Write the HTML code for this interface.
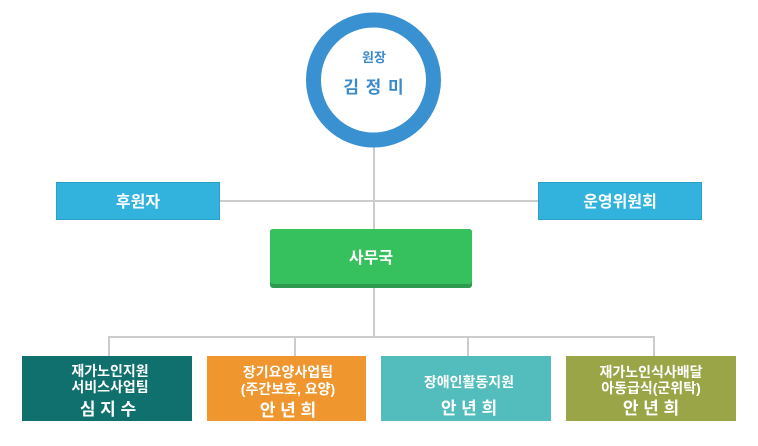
<!DOCTYPE html>
<html>
<head>
<meta charset="utf-8">
<style>
  html, body { margin:0; padding:0; background:#ffffff; }
  body { width:758px; height:441px; overflow:hidden; }
  svg text { font-family: "Liberation Sans", "Noto Sans CJK KR", "NanumGothic", sans-serif; font-weight:bold; }
</style>
</head>
<body>
<svg width="758" height="441" viewBox="0 0 758 441" xmlns="http://www.w3.org/2000/svg">
  <!-- connectors -->
  <g stroke="#cccccc" stroke-width="2" fill="none">
    <line x1="374" y1="146" x2="374" y2="337"/>
    <line x1="220" y1="201" x2="538" y2="201"/>
    <line x1="108" y1="337" x2="655" y2="337"/>
    <line x1="109" y1="336" x2="109" y2="356"/>
    <line x1="295" y1="336" x2="295" y2="356"/>
    <line x1="468" y1="336" x2="468" y2="356"/>
    <line x1="654" y1="336" x2="654" y2="356"/>
  </g>

  <!-- director circle -->
  <circle cx="373.5" cy="80" r="60" fill="#ffffff" stroke="#3a91d2" stroke-width="15"/>
  <text x="374" y="62" font-size="13" fill="#3a8bcc" text-anchor="middle">원장</text>
  <text x="374" y="93" font-size="17" fill="#3a8bcc" text-anchor="middle" letter-spacing="1">김 정 미</text>

  <!-- side boxes -->
  <rect x="56.5" y="182.5" width="163" height="37" fill="#31b3de" stroke="#2a9fca" stroke-width="1"/>
  <text x="138" y="207" font-size="16" fill="#ffffff" text-anchor="middle">후원자</text>

  <rect x="538.5" y="182.5" width="163" height="37" fill="#31b3de" stroke="#2a9fca" stroke-width="1"/>
  <text x="620" y="207" font-size="16" fill="#ffffff" text-anchor="middle">운영위원회</text>

  <!-- office -->
  <rect x="270" y="229" width="202" height="59" rx="3" ry="3" fill="#2e9a50"/>
  <rect x="270" y="229" width="202" height="55" rx="3" ry="3" fill="#36c05e"/>
  <text x="371" y="263" font-size="16" fill="#ffffff" text-anchor="middle">사무국</text>

  <!-- bottom boxes -->
  <rect x="22" y="356" width="170" height="65" fill="#10706e"/>
  <text x="110" y="376" font-size="14" fill="#ffffff" text-anchor="middle">재가노인지원</text>
  <text x="110" y="392" font-size="14" fill="#ffffff" text-anchor="middle">서비스사업팀</text>
  <text x="108" y="415" font-size="17" fill="#ffffff" text-anchor="middle">심 지 수</text>

  <rect x="207" y="356" width="159" height="65" fill="#f0962e"/>
  <text x="288" y="377" font-size="14" fill="#ffffff" text-anchor="middle">장기요양사업팀</text>
  <text x="288" y="394" font-size="14" fill="#ffffff" text-anchor="middle">(주간보호, 요양)</text>
  <text x="288" y="416" font-size="17" fill="#ffffff" text-anchor="middle">안 년 희</text>

  <rect x="381" y="356" width="170" height="65" fill="#53bdbd"/>
  <text x="469" y="387" font-size="14" fill="#ffffff" text-anchor="middle">장애인활동지원</text>
  <text x="469" y="414" font-size="17" fill="#ffffff" text-anchor="middle">안 년 희</text>

  <rect x="566" y="356" width="170" height="65" fill="#9aa548"/>
  <text x="651" y="377" font-size="14" fill="#ffffff" text-anchor="middle">재가노인식사배달</text>
  <text x="651" y="393" font-size="14" fill="#ffffff" text-anchor="middle">아동급식(군위탁)</text>
  <text x="651" y="414" font-size="17" fill="#ffffff" text-anchor="middle">안 년 희</text>
</svg>
</body>
</html>
